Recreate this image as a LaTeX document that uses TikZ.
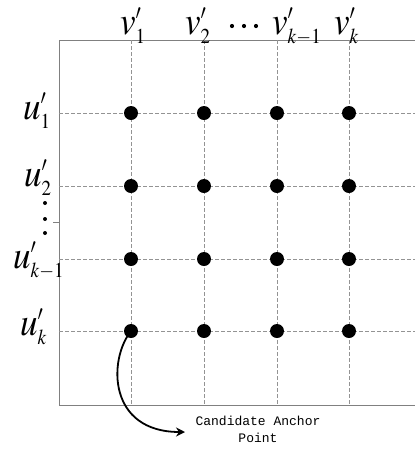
\documentclass[tikz,border=0pt]{standalone}
\usepackage{mathptmx}
\usepackage{fontspec}
\setmainfont{Liberation Serif}
\newfontfamily\monofnt{Liberation Mono}
\usetikzlibrary{arrows.meta}
\DeclareMathSizes{35}{35}{19}{13}
\tikzset{
  gridline/.style={draw=gray!85, dashed, dash pattern=on 3.5pt off 2.5pt, line width=0.8pt},
  border/.style={draw=gray, line width=0.9pt},
  gdot/.style={circle, fill=black, inner sep=0pt, minimum size=14pt},
  lab/.style={inner sep=0pt, anchor=base west},
  note/.style={inner sep=0pt, align=center, font=\monofnt\fontsize{13}{17}\selectfont}
}
\newcommand{\vl}[2]{\scalebox{1}[1.12]{\fontsize{35}{35}\selectfont$#1'_{#2}$}}
\begin{document}
\begin{tikzpicture}[x=1pt,y=-1pt]
\useasboundingbox (0,0) rectangle (415,451);
% border
\coordinate (tl) at (59,40);
\coordinate (tr) at (415,40);
\coordinate (bl) at (59,405);
\coordinate (br) at (415,405);
\draw[border] (tr) -- (tl) -- (bl) -- (br);
\coordinate (tk1) at (53,222);
\coordinate (tk2) at (59,222);
\draw[border, line width=0.6pt] (tk1) -- (tk2);
% grid
\foreach \x/\i in {131/1,204/2,277/3,349/4}{
  \coordinate (ct\i) at (\x,40);
  \coordinate (cb\i) at (\x,405);
  \draw[gridline] (ct\i) -- (cb\i);
}
\foreach \y/\j in {113/1,186/2,259/3,331/4}{
  \coordinate (rl\j) at (59,\y);
  \coordinate (rr\j) at (415,\y);
  \draw[gridline] (rl\j) -- (rr\j);
}
\foreach \x/\i in {131/1,204/2,277/3,349/4}{
  \foreach \y/\j in {113/1,186/2,259/3,331/4}{
    \node[gdot] (d\i\j) at (\x,\y) {};
  }
}
% column labels
\node[lab] (v1) at (120,34) {\vl{v}{1}};
\node[lab] (v2) at (185,34) {\vl{v}{2}};
\node[lab] (v3) at (272,34) {\vl{v}{k-1}};
\node[lab] (v4) at (334,34) {\vl{v}{k}};
\foreach \xx/\n in {232/a,244/b,256/c}{
  \node[circle, fill=black, inner sep=0pt, minimum size=4.2pt] (hdot\n) at (\xx,26) {};
}
% row labels
\node[lab] (u1) at (23,119) {\vl{u}{1}};
\node[lab] (u2) at (24,186) {\vl{u}{2}};
\node[lab] (u3) at (13,268) {\vl{u}{k-1}};
\node[lab] (u4) at (20,335) {\vl{u}{k}};
\foreach \yy/\n in {203/a,219/b,233/c}{
  \node[circle, fill=black, inner sep=0pt, minimum size=4pt] (vdot\n) at (45,\yy) {};
}
% annotation
\node[note] (cap) at (258,429) {Candidate Anchor\\Point};
\coordinate (tip) at (185,432);
\draw[line width=1.8pt, -{Stealth[length=9pt,width=9pt]}] (d14.center) .. controls (108,360) and (108,432) .. (tip);
\end{tikzpicture}
\end{document}
